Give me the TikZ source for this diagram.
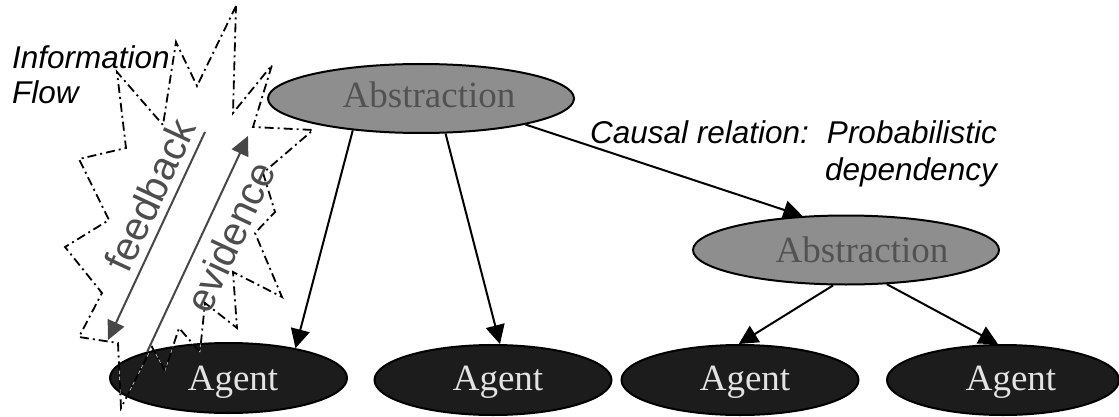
\documentclass[tikz,border=0pt]{standalone}
\usepackage{fontspec}
\setmainfont{Liberation Serif}
\setsansfont{Liberation Sans}
\usetikzlibrary{shapes.geometric,arrows.meta,calc}
\definecolor{absfill}{HTML}{8E8E8E}
\definecolor{abstext}{HTML}{525252}
\definecolor{agentfill}{HTML}{1C1C1C}
\definecolor{agenttext}{HTML}{E3E3E3}
\definecolor{flowgrey}{HTML}{474747}
\definecolor{rottext}{HTML}{4D4D4D}
\newcommand\myNodeFont{\rmfamily\fontsize{37}{40}\selectfont}
\newcommand\myLblFont{\sffamily\itshape\fontsize{31.5}{36}\selectfont}
\newcommand\myRotFont{\sffamily\fontsize{40}{44}\selectfont}
\begin{document}
\begin{tikzpicture}[x=1pt,y=-1pt,
  abst/.style={ellipse, draw=black, line width=2pt, fill=absfill, inner sep=0pt, minimum width=306pt, minimum height=69pt},
  agentnode/.style={ellipse, draw=black, line width=2pt, fill=agentfill, inner sep=0pt, minimum width=237pt, minimum height=70pt},
  nodetxt/.style={font=\myNodeFont, inner sep=0pt, anchor=base},
  abstxt/.style={nodetxt, text=abstext},
  agtxt/.style={nodetxt, text=agenttext},
  causalarrow/.style={-{Triangle[length=19pt,width=19pt]}, line width=2pt, draw=black},
  flowarrow/.style={-{Triangle[length=19pt,width=18pt]}, line width=2pt, draw=flowgrey},
  burstline/.style={draw=black, line width=1.8pt, dash pattern=on 9pt off 4pt on 2pt off 4pt, preaction={draw=white, solid}},
  lbl/.style={font=\myLblFont, inner sep=0pt},
  rottxt/.style={font=\myRotFont, text=rottext, inner sep=0pt, anchor=base, rotate=65}]
\useasboundingbox (0,0) rectangle (1119,417);

% ellipses
\node[abst] (abs1) at (421,98.5) {};
\node[abst] (abs2) at (846,250) {};
\node[agentnode] (ag1) at (228.5,378) {};
\node[agentnode] (ag2) at (493,380) {};
\node[agentnode] (ag3) at (740,380) {};
\node[agentnode, minimum width=232pt] (ag4) at (1003,380) {};

% causal arrows
\draw[causalarrow] (abs1.205) -- (ag1.24);
\draw[causalarrow] (abs1.305) -- (ag2.79);
\draw[causalarrow] (abs1.346) -- (abs2.142);
\draw[causalarrow] (abs2.250) -- (ag3.92);
\draw[causalarrow] (abs2.320) -- (ag4.98);

% information-flow burst
\draw[burstline] (236,6) -- (197,86) -- (176,42) -- (163,125) -- (117,72) -- (126,148)
  -- (79,159) -- (109,220) -- (65,247) -- (102,293) -- (79,337) -- (118,343)
  -- (121,408) -- (152,347) -- (165,371) -- (179,328) -- (200,352) -- (205,303)
  -- (237,328) -- (233,272) -- (282,297) -- (255,233) -- (275,212) -- (263,173)
  -- (313,130) -- (253,127) -- (272,65) -- (233,113) -- cycle;

% texts in ellipses
\node[abstxt] (abs1t) at (429,108) {Abstraction};
\node[abstxt] (abs2t) at (862,262) {Abstraction};
\node[agtxt] (ag1t) at (233,390) {Agent};
\node[agtxt] (ag2t) at (498,390) {Agent};
\node[agtxt] (ag3t) at (745,390) {Agent};
\node[agtxt] (ag4t) at (1011,390) {Agent};

% feedback / evidence
\coordinate (fbs) at (205,132);
\coordinate (fbe) at (108,340);
\coordinate (eve) at (248,136);
\draw[flowarrow] (fbs) -- (fbe);
\draw[flowarrow] (ag1.162) -- (eve);
\node[rottxt] (fbt) at (163,201) {feedback};
\node[rottxt] (evt) at (243,243) {evidence};

% labels
\node[lbl, anchor=base west] (info1) at (12,69) {Information};
\node[lbl, anchor=base west] (info2) at (12,104) {Flow};
\node[lbl, anchor=base west] (causaltxt) at (590,144) {Causal relation:};
\node[lbl, anchor=base east] (prob) at (997,144) {Probabilistic};
\node[lbl, anchor=base east] (dep) at (997,180) {dependency};
\end{tikzpicture}
\end{document}
